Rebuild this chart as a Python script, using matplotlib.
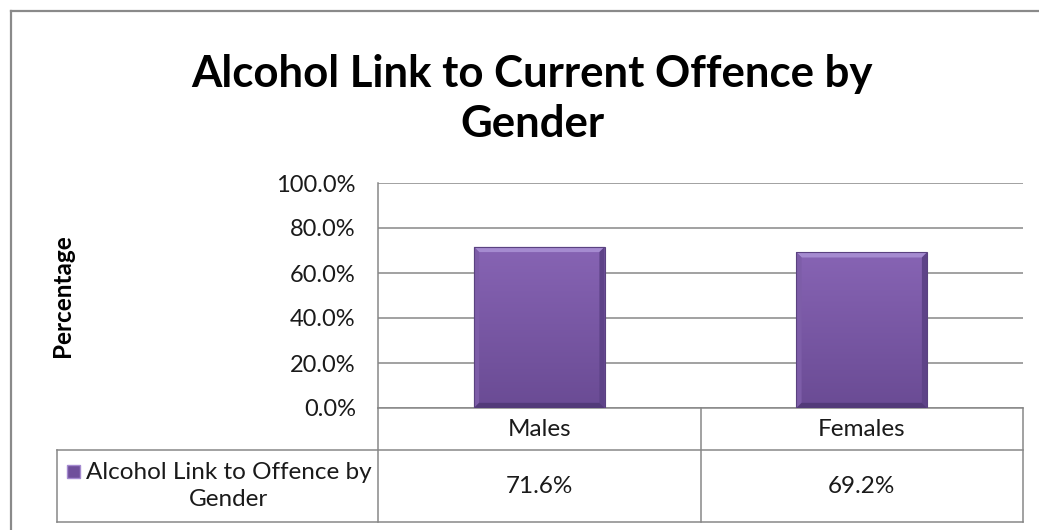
import matplotlib

matplotlib.use("Agg")
import matplotlib.pyplot as plt
import matplotlib.transforms as mtransforms
from matplotlib.lines import Line2D
from matplotlib.patches import Polygon, Rectangle
import numpy as np

categories = ["Males", "Females"]
values = [71.6, 69.2]
value_labels = ["71.6%", "69.2%"]
series_name = "Alcohol Link to Offence by\nGender"
title = "Alcohol Link to Current Offence by\nGender"
y_ticks = [0, 20, 40, 60, 80, 100]

FONT = "Lato"
GRID = "#878787"
TEXT = "#1a1a1a"
TOP_COL = np.array([0x87, 0x64, 0xB4]) / 255
BOT_COL = np.array([0x6A, 0x4B, 0x94]) / 255

W, H = 1039, 530
fig = plt.figure(figsize=(W / 100, H / 100), dpi=100)
fig.patch.set_facecolor("white")


def px(x0, y0, x1, y1):
    # pixel box (top-left origin) -> figure fraction rect
    return [x0 / W, 1 - y1 / H, (x1 - x0) / W, (y1 - y0) / H]


# outer chart frame: only the left and top edges fall inside the image
frame = dict(color="#8a8a8a", lw=1.6, transform=fig.transFigure)
fig.lines.append(Line2D([11 / W, 11 / W], [0, 1 - 11 / H], **frame))
fig.lines.append(Line2D([11 / W, 1], [1 - 11 / H, 1 - 11 / H], **frame))

ax = fig.add_axes(px(378, 183, 1023, 408))
x = np.arange(len(categories))
ax.set_xlim(-0.5, len(categories) - 0.5)
ax.set_ylim(0, 100)
ax.set_yticks(y_ticks)
ax.set_yticklabels([f"{t:.1f}%" for t in y_ticks], fontsize=17,
                   family=FONT, color=TEXT)
ax.set_xticks([])
ax.tick_params(axis="y", length=0, pad=16)
ax.yaxis.grid(True, color=GRID, lw=1.1)
ax.set_axisbelow(True)
for side in ["top", "right"]:
    ax.spines[side].set_visible(False)
ax.spines["left"].set_color(GRID)
ax.spines["bottom"].set_color(GRID)
ax.spines["left"].set_linewidth(1.1)
ax.spines["bottom"].set_linewidth(1.1)

ax.set_ylabel("Percentage", fontsize=17.5, fontweight="bold", family=FONT,
              color="black", labelpad=0)
ax.yaxis.set_label_coords(-0.472, 0.5)

fig.text(532 / W, 1 - 99 / H, title, ha="center", va="center",
         fontsize=31.5, fontweight="bold", family=FONT, color="black",
         linespacing=1.33)

# bars with a vertical gradient and bevelled edges
bar_w = 0.405
bars = ax.bar(x, values, width=bar_w, color="none", edgecolor="none",
              zorder=3)
grad = np.linspace(0, 1, 256)[:, None, None]
grad_img = TOP_COL * (1 - grad) + BOT_COL * grad
dx, dy = 0.016, 2.3
for rect, v in zip(bars, values):
    x0 = rect.get_x()
    x1 = x0 + rect.get_width()
    im = ax.imshow(grad_img, extent=(x0, x1, 0, v), aspect="auto",
                   origin="upper", zorder=3)
    im.set_clip_path(rect)
    ax.add_patch(Polygon([(x0, v), (x1, v), (x1 - dx, v - dy),
                          (x0 + dx, v - dy)], closed=True,
                         facecolor="#a58bd0", edgecolor="none", zorder=4))
    ax.add_patch(Polygon([(x0, 0), (x0, v), (x0 + dx, v - dy),
                          (x0 + dx, dy)], closed=True,
                         facecolor="#7d5da8", edgecolor="none", zorder=4))
    ax.add_patch(Polygon([(x1, 0), (x1, v), (x1 - dx, v - dy),
                          (x1 - dx, dy)], closed=True,
                         facecolor="#5e4388", edgecolor="none", zorder=4))
    ax.add_patch(Polygon([(x0, 0), (x1, 0), (x1 - dx, dy),
                          (x0 + dx, dy)], closed=True,
                         facecolor="#523a79", edgecolor="none", zorder=4))
    ax.add_patch(Rectangle((x0, 0), x1 - x0, v, fill=False,
                           edgecolor="#5a4280", lw=0.8, zorder=5))
ax.set_xlim(-0.5, len(categories) - 0.5)
ax.set_ylim(0, 100)

# data table under the plot
ax_h = 225.0
row1 = -(450 - 408) / ax_h
row2 = -(522 - 408) / ax_h
label_left = -(378 - 57) / 645.0
blend = mtransforms.blended_transform_factory(ax.transData, ax.transAxes)
lk = dict(color=GRID, lw=1.1, clip_on=False)
edges = [-0.5] + [i + 0.5 for i in x]
for e in edges:
    ax.add_line(Line2D([e, e], [0, row2], transform=blend, **lk))
ax.add_line(Line2D([label_left, 1], [row1, row1], transform=ax.transAxes, **lk))
ax.add_line(Line2D([label_left, 1], [row2, row2], transform=ax.transAxes, **lk))
ax.add_line(Line2D([label_left, label_left], [row1, row2],
                   transform=ax.transAxes, **lk))

for i, (cat, lab) in enumerate(zip(categories, value_labels)):
    ax.text(i, row1 / 2, cat, transform=blend, ha="center", va="center",
            fontsize=17.5, family=FONT, color=TEXT)
    ax.text(i, (row1 + row2) / 2, lab, transform=blend, ha="center",
            va="center", fontsize=17.5, family=FONT, color=TEXT)

ax.text(-(378 - 229) / 645.0, (row1 + row2) / 2, series_name,
        transform=ax.transAxes, ha="center", va="center", fontsize=17.5,
        family=FONT, color=TEXT, linespacing=1.4)
ax.add_patch(Rectangle((-(378 - 67) / 645.0, -(478 - 408) / ax_h),
                       13 / 645.0, 13 / ax_h, transform=ax.transAxes,
                       facecolor="#6f4f9b", edgecolor="#a58bd0", lw=1.0,
                       clip_on=False))

fig.savefig("out.png", dpi=100)
plt.close(fig)
